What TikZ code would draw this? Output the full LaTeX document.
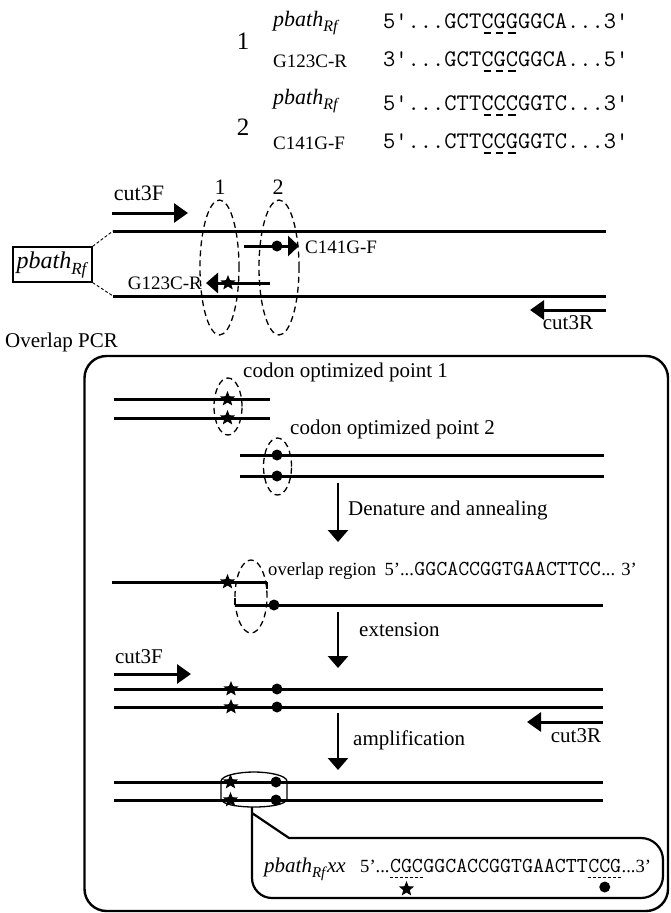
\documentclass[tikz,border=0pt]{standalone}
\usepackage{fontspec}
\setmainfont{Liberation Serif}
\usetikzlibrary{arrows.meta,shapes.geometric}

% a base with a short dash underneath it
\newcommand\du[1]{\ooalign{#1\cr\hidewidth\rule[-6pt]{7.5pt}{1.9pt}\hidewidth\cr}}
% gene name with its subscript: #1 = subscript size, #2 = drop
\newcommand\pbath[2]{\textit{pbath}\raisebox{-#2}{\fontsize{#1}{#1}\selectfont\textit{Rf}}}

\tikzset{
  txt/.style={inner sep=0pt, font=\fontsize{21}{25}\selectfont},
  small/.style={inner sep=0pt, font=\fontsize{19}{23}\selectfont},
  big/.style={inner sep=0pt, font=\fontsize{22}{26}\selectfont},
  num/.style={inner sep=0pt, font=\fontsize{25}{28}\selectfont},
  note/.style={inner sep=0pt, font=\fontsize{18.6}{22}\selectfont},
  seq/.style={inner sep=0pt, font=\ttfamily\fontsize{23.8}{26}\selectfont},
  seqs/.style={inner sep=0pt, font=\ttfamily\fontsize{21.3}{24}\selectfont},
  strand/.style={line width=3pt},
  primer/.style={line width=3pt, -{Triangle[length=14pt,width=19pt]}},
  flow/.style={line width=2.7pt, -{Triangle[length=12pt,width=20pt]}},
  site/.style={draw, ellipse, dash pattern=on 6pt off 4pt, line width=1.3pt, inner sep=0pt},
  starmark/.style={star, star points=5, star point ratio=2.3, minimum size=16pt, inner sep=0pt, fill=black},
  dotmark/.style={circle, minimum size=11pt, inner sep=0pt, fill=black},
}

\begin{document}
\begin{tikzpicture}[x=1pt,y=1pt]
\useasboundingbox (0,0) rectangle (670,-913);

% ---------- mutation sites in the sequence ----------
\node[num] (k1) at (243,-41) {1};
\node[big, anchor=base west] (w1) at (273,-26) {\pbath{16}{5pt}};
\node[seq, anchor=base west] (s1) at (383,-28) {5'...GCT\du{C}\du{G}\du{G}GGCA...3'};
\node[small, anchor=base west] (w2) at (273,-67) {G123C-R};
\node[seq, anchor=base west] (s2) at (383,-66) {3'...GCT\du{C}\du{G}\du{C}GGCA...5'};

\node[num] (k2) at (243,-127) {2};
\node[big, anchor=base west] (w3) at (273,-104) {\pbath{16}{5pt}};
\node[seq, anchor=base west] (s3) at (383,-110) {5'...CTT\du{C}\du{C}\du{C}GGTC...3'};
\node[small, anchor=base west] (w4) at (273,-149) {C141G-F};
\node[seq, anchor=base west] (s4) at (383,-148) {5'...CTT\du{C}\du{C}\du{G}GGTC...3'};

% ---------- template with mutagenic primers ----------
\node[big] (f1) at (139,-193) {cut3F};
\coordinate (f1a) at (112,-213);
\coordinate (f1b) at (188,-213);
\draw[primer] (f1a) -- (f1b);

\node[big] (c1) at (220,-187) {1};
\node[big] (c2) at (278,-187) {2};
\node[site, minimum width=39pt, minimum height=135pt] (e1) at (219.5,-267.5) {};
\node[site, minimum width=40pt, minimum height=135pt] (e2) at (279,-267.5) {};

\coordinate (t1) at (113,-231);
\coordinate (t2) at (606,-231);
\coordinate (b1) at (113,-296);
\coordinate (b2) at (606,-296);
\draw[strand] (t1) -- (t2);
\draw[strand] (b1) -- (b2);

\node[draw, line width=1.3pt, minimum width=79pt, minimum height=35pt, inner sep=0pt,
      font=\fontsize{24}{28}\selectfont] (gene) at (52.5,-264.5) {\pbath{17}{6pt}};
\draw[densely dashed, line width=0.9pt] (gene.north east) -- (t1);
\draw[densely dashed, line width=0.9pt] (gene.south east) -- (b1);

\coordinate (p2a) at (244,-246);
\coordinate (p2b) at (299,-246);
\draw[line width=3pt, -{Triangle[length=11pt,width=20pt]}] (p2a) -- (p2b);
\node[dotmark] (d0) at (277,-246) {};
\node[small, anchor=west] (l2) at (305,-247) {C141G-F};

\coordinate (p1a) at (270,-283);
\coordinate (p1b) at (206,-283);
\draw[line width=3pt, -{Triangle[length=12pt,width=20pt]}] (p1a) -- (p1b);
\node[starmark] (x0) at (228,-283) {};
\node[small, anchor=east] (l1) at (202,-283) {G123C-R};

\coordinate (r1a) at (606,-310);
\coordinate (r1b) at (530,-310);
\draw[primer] (r1a) -- (r1b);
\node[txt] (r1) at (568,-323) {cut3R};

\node[txt, anchor=west] (ov) at (5,-342) {Overlap PCR};

% ---------- overlap PCR panel ----------
\node[draw, rounded corners=22pt, line width=2.4pt, minimum width=583.5pt,
      minimum height=555pt, inner sep=0pt] (pcr) at (376.25,-633.5) {};

% fragment 1
\node[txt, anchor=west] (o1) at (243,-372) {codon optimized point 1};
\coordinate (a1) at (114,-399);
\coordinate (a2) at (270,-399);
\coordinate (a3) at (114,-418);
\coordinate (a4) at (270,-418);
\draw[strand] (a1) -- (a2);
\draw[strand] (a3) -- (a4);
\node[site, minimum width=28pt, minimum height=57pt] (e3) at (228,-406.5) {};
\node[starmark] (x1) at (227.5,-399) {};
\node[starmark] (x2) at (227.5,-418) {};

% fragment 2
\node[txt, anchor=west] (o2) at (290,-429) {codon optimized point 2};
\coordinate (g1) at (240,-455);
\coordinate (g2) at (604,-455);
\coordinate (g3) at (240,-476);
\coordinate (g4) at (604,-476);
\draw[strand] (g1) -- (g2);
\draw[strand] (g3) -- (g4);
\node[site, minimum width=28pt, minimum height=57pt] (e4) at (277.5,-466.5) {};
\node[dotmark] (d1) at (277,-455) {};
\node[dotmark] (d2) at (277,-476) {};

% step 1
\coordinate (v1a) at (338,-483);
\coordinate (v1b) at (338,-542);
\draw[flow] (v1a) -- (v1b);
\node[txt, anchor=west] (st1) at (348,-510) {Denature and annealing};

% annealed overlap
\node[note, anchor=base west] (ol) at (268,-575) {overlap region};
\node[note, anchor=base west] (ol1) at ([xshift=8pt]ol.base east) {5'...};
\node[seqs, anchor=base west] (ol2) at (ol1.base east) {GGCACCGGTGAACTTCC};
\node[note, anchor=base west] (ol3) at (ol2.base east) {... 3'};

\coordinate (h1) at (112,-582);
\coordinate (h2) at (267,-582);
\coordinate (h3) at (267,-589);
\coordinate (h4) at (235,-598);
\coordinate (h5) at (235,-605);
\coordinate (h6) at (603,-605);
\draw[strand] (h1) -- (h2);
\draw[line width=1.4pt] (h2) -- (h3);
\draw[line width=1.4pt] (h4) -- (h5);
\draw[strand] (h5) -- (h6);
\node[site, minimum width=32pt, minimum height=73pt] (e5) at (251,-596.5) {};
\node[starmark] (x3) at (227.5,-582) {};
\node[dotmark] (d3) at (274,-605) {};

% step 2
\coordinate (v2a) at (338,-612);
\coordinate (v2b) at (338,-668);
\draw[flow] (v2a) -- (v2b);
\node[txt, anchor=west] (st2) at (359,-630) {extension};

% full-length product with outer primers
\node[txt] (f2) at (139,-657) {cut3F};
\coordinate (f2a) at (114,-674);
\coordinate (f2b) at (191,-674);
\draw[primer] (f2a) -- (f2b);

\coordinate (m1) at (114,-689);
\coordinate (m2) at (603,-689);
\coordinate (m3) at (114,-707);
\coordinate (m4) at (603,-707);
\draw[strand] (m1) -- (m2);
\draw[strand] (m3) -- (m4);
\node[starmark] (x4) at (231,-689) {};
\node[starmark] (x5) at (231,-707) {};
\node[dotmark] (d4) at (277,-689) {};
\node[dotmark] (d5) at (277,-707) {};

\coordinate (r2a) at (603,-722);
\coordinate (r2b) at (527,-722);
\draw[primer] (r2a) -- (r2b);
\node[txt] (r2) at (576,-736) {cut3R};

% step 3
\coordinate (v3a) at (338,-713);
\coordinate (v3b) at (338,-770);
\draw[flow] (v3a) -- (v3b);
\node[txt, anchor=west] (st3) at (353,-740) {amplification};

% amplified product
\coordinate (n1) at (114,-782);
\coordinate (n2) at (603,-782);
\coordinate (n3) at (114,-800);
\coordinate (n4) at (603,-800);
\draw[strand] (n1) -- (n2);
\draw[strand] (n3) -- (n4);

\draw[line width=1.3pt] (221,-799) -- (221,-781)
  .. controls (222,-775) and (240,-772) .. (254,-772)
  .. controls (268,-772) and (286,-775) .. (287,-781)
  -- (287,-799)
  .. controls (286,-805) and (268,-807) .. (254,-807)
  .. controls (240,-807) and (222,-805) .. (221,-799) -- cycle;
\node[starmark] (x6) at (230.5,-782) {};
\node[starmark] (x7) at (230.5,-800) {};
\node[dotmark] (d6) at (276,-782) {};
\node[dotmark] (d7) at (276,-800) {};

% call-out with the optimized sequence
\coordinate (cap) at (252,-807);
\draw[line width=2.2pt] (cap) -- (252,-878)
  arc[start angle=180, end angle=270, radius=20pt] -- (641,-898)
  arc[start angle=270, end angle=360, radius=22pt] -- (663,-860)
  arc[start angle=0, end angle=90, radius=22pt] -- (289,-838) -- (252,-813);

\node[txt, anchor=base west] (px) at (264,-872) {\pbath{15}{5pt}\textit{xx}};
\node[note, anchor=base west] (q1) at (360,-872) {5'...};
\node[seqs, anchor=base west] (q2) at (q1.base east) {CGC};
\node[seqs, anchor=base west] (q3) at (q2.base east) {GGCACCGGTGAACTT};
\node[seqs, anchor=base west] (q4) at (q3.base east) {CCG};
\node[note, anchor=base west] (q5) at (q4.base east) {...3'};
\draw[dash pattern=on 3pt off 2pt, line width=1pt]
  ([yshift=-5pt]q2.base west) -- ([yshift=-5pt]q2.base east);
\draw[dash pattern=on 3pt off 2pt, line width=1pt]
  ([yshift=-5pt]q4.base west) -- ([yshift=-5pt]q4.base east);
\node[starmark] (x8) at ([yshift=-17pt]q2.base) {};
\node[dotmark] (d8) at ([yshift=-15pt]q4.base) {};
\end{tikzpicture}
\end{document}
